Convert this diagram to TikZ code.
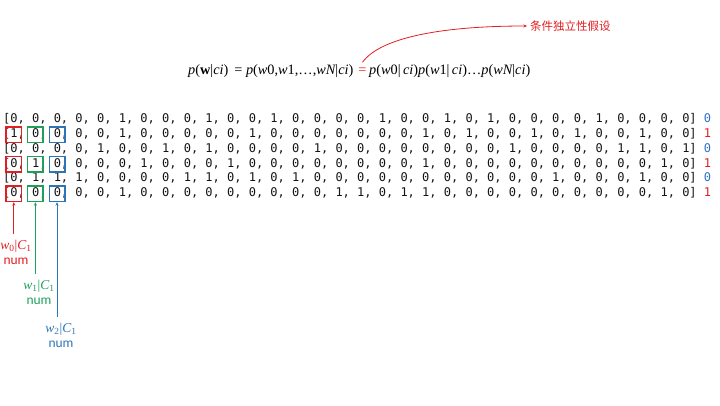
\documentclass[tikz,border=0pt]{standalone}
\usepackage{fontspec}
\usetikzlibrary{arrows.meta}
\newfontfamily\monof{DejaVu Sans Mono}
\newfontfamily\calib{Carlito}
\newfontfamily\fmlf{Liberation Serif}
\newfontfamily\cjk{Noto Sans CJK SC}
\newcommand\mi[1]{{\itshape #1}}
\definecolor{cred}{RGB}{226,30,34}
\definecolor{cgreen}{RGB}{30,160,90}
\definecolor{cblue}{RGB}{46,117,182}
\definecolor{lblue}{RGB}{50,112,200}
\definecolor{txt}{RGB}{20,20,20}
\tikzset{
  rowtxt/.style={anchor=base west, inner sep=0pt, text=txt, font=\monof\fontsize{12}{14}\selectfont},
  selbox/.style={draw, line width=1.5pt, minimum width=15.5pt, minimum height=15.5pt, inner sep=0pt},
  lab/.style={anchor=north, align=center, inner sep=1pt, font=\fmlf\fontsize{13.5}{15}\selectfont},
  fml/.style={inner sep=0pt, font=\fmlf\fontsize{14.3}{16}\selectfont},
  arr/.style={-{Stealth[length=3.5pt,width=3pt]}, line width=0.8pt}
}
\begin{document}
\begin{tikzpicture}[x=1pt,y=-1pt]
\useasboundingbox (0,0) rectangle (720,405);
% formula
\node[fml, anchor=base west] (f1) at (188,74) {\mi{p}(\textbf{w}|\mi{ci})\hspace{6pt}= \mi{p}(\mi{w}0,\mi{w}1,…,\mi{wN}|\mi{ci})};
\node[fml, anchor=base, text=cred] (eq) at (362.5,74) {=};
\node[fml, anchor=base west] (f2) at (369,74) {\mi{p}(\mi{w}0|\,\mi{ci})\mi{p}(\mi{w}1|\,\mi{ci})…\mi{p}(\mi{wN}|\mi{ci})};
\node[anchor=west, inner sep=0pt, text=cred, font=\cjk\fontsize{11.5}{13}\selectfont] (note) at (530,26) {条件独立性假设};
\draw[arr, cred] ([yshift=5pt]eq.north) .. controls (380,38) and (440,26) .. ([xshift=-3pt]note.west);
% rows
\node[rowtxt] (r1) at (3,122.7) {[0, 0, 0, 0, 0, 1, 0, 0, 0, 1, 0, 0, 1, 0, 0, 0, 0, 1, 0, 0, 1, 0, 1, 0, 0, 0, 0, 1, 0, 0, 0, 0] \textcolor{lblue}{0}};
\node[rowtxt] (r2) at (3,137.5) {[1, 0, 0, 0, 0, 1, 0, 0, 0, 0, 0, 1, 0, 0, 0, 0, 0, 0, 0, 1, 0, 1, 0, 0, 1, 0, 1, 0, 0, 1, 0, 0] \textcolor{cred}{1}};
\node[rowtxt] (r3) at (3,152.3) {[0, 0, 0, 0, 1, 0, 0, 1, 0, 1, 0, 0, 0, 0, 1, 0, 0, 0, 0, 0, 0, 0, 0, 1, 0, 0, 0, 0, 1, 1, 0, 1] \textcolor{lblue}{0}};
\node[rowtxt] (r4) at (3,167.1) {[0, 1, 0, 0, 0, 0, 1, 0, 0, 0, 1, 0, 0, 0, 0, 0, 0, 0, 0, 1, 0, 0, 0, 0, 0, 0, 0, 0, 0, 0, 1, 0] \textcolor{cred}{1}};
\node[rowtxt] (r5) at (3,181.9) {[0, 1, 1, 1, 0, 0, 0, 0, 1, 1, 0, 1, 0, 1, 0, 0, 0, 0, 0, 0, 0, 0, 0, 0, 0, 1, 0, 0, 0, 1, 0, 0] \textcolor{lblue}{0}};
\node[rowtxt] (r6) at (3,196.7) {[0, 0, 0, 0, 0, 1, 0, 0, 0, 0, 0, 0, 0, 0, 0, 1, 1, 0, 1, 1, 0, 0, 0, 0, 0, 0, 0, 0, 0, 0, 1, 0] \textcolor{cred}{1}};
% boxes
\foreach \r/\y in {2/134.5, 4/164.1, 6/193.7}{
  \node[selbox, cred] (a\r) at (13.8,\y) {};
  \node[selbox, cgreen] (b\r) at (35.4,\y) {};
  \node[selbox, cblue] (c\r) at (57.0,\y) {};
}
% labels
\node[lab, text=cred] (l0) at (16,239) {\mi{w}\textsubscript{0}|\mi{C}\textsubscript{1}\\{\calib num}};
\node[lab, text=cgreen] (l1) at (39,279) {\mi{w}\textsubscript{1}|\mi{C}\textsubscript{1}\\{\calib num}};
\node[lab, text=cblue] (l2) at (61,322) {\mi{w}\textsubscript{2}|\mi{C}\textsubscript{1}\\{\calib num}};
\draw[arr, cred] ([yshift=5pt]l0.north -| a6) -- (a6.south);
\draw[arr, cgreen] ([yshift=5pt]l1.north -| b6) -- (b6.south);
\draw[arr, cblue] ([yshift=5pt]l2.north -| c6) -- (c6.south);
\end{tikzpicture}
\end{document}
